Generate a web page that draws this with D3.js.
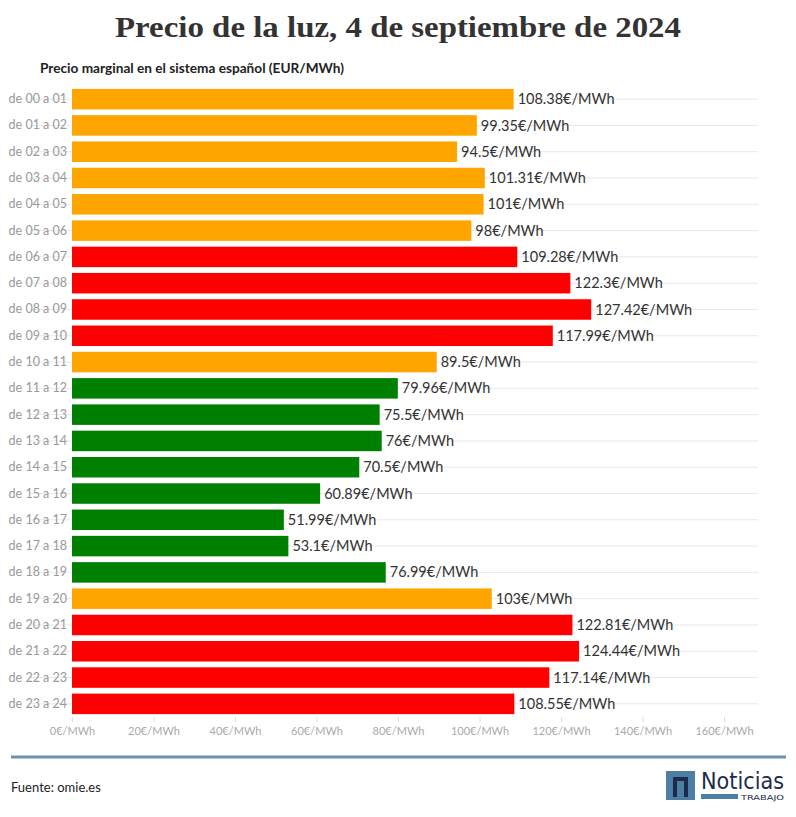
<!DOCTYPE html>
<html>
<head>
<meta charset="utf-8">
<script src="https://cdn.jsdelivr.net/npm/d3@7"></script>
<style>
  body { margin: 0; background: #fff; }
  svg { display: block; }
</style>
</head>
<body>
<svg id="chart" width="796" height="817"></svg>
<script>
const categories = ["de 00 a 01","de 01 a 02","de 02 a 03","de 03 a 04","de 04 a 05","de 05 a 06",
  "de 06 a 07","de 07 a 08","de 08 a 09","de 09 a 10","de 10 a 11","de 11 a 12","de 12 a 13",
  "de 13 a 14","de 14 a 15","de 15 a 16","de 16 a 17","de 17 a 18","de 18 a 19","de 19 a 20",
  "de 20 a 21","de 21 a 22","de 22 a 23","de 23 a 24"];
const prices = [108.38, 99.35, 94.5, 101.31, 101, 98, 109.28, 122.3, 127.42, 117.99, 89.5,
  79.96, 75.5, 76, 70.5, 60.89, 51.99, 53.1, 76.99, 103, 122.81, 124.44, 117.14, 108.55];
const levels = ["medio","medio","medio","medio","medio","medio","alto","alto","alto","alto","medio",
  "bajo","bajo","bajo","bajo","bajo","bajo","bajo","bajo","medio","alto","alto","alto","alto"];
const levelColors = {bajo: "#008000", medio: "#FFA500", alto: "#FF0000"};
const xTicks = [0, 20, 40, 60, 80, 100, 120, 140, 160];
const unit = "€/MWh";

(function () {
const svg = d3.select("#chart");
const mLeft = 72, mTop = 86, mBottom = 717;
const x = d3.scaleLinear().domain([0, 160]).range([mLeft, 724]);
const gridRight = 758;
const y = d3.scaleBand().domain(categories).range([mTop, mBottom]).paddingInner(0.22).paddingOuter(0.11);

// Title
svg.append("text")
  .attr("x", 398).attr("y", 37)
  .attr("text-anchor", "middle")
  .attr("font-family", "'Liberation Serif', serif")
  .attr("font-weight", "bold")
  .attr("font-size", 29)
  .attr("fill", "#333")
  .attr("textLength", 566).attr("lengthAdjust", "spacingAndGlyphs")
  .text("Precio de la luz, 4 de septiembre de 2024");

svg.append("text")
  .attr("x", 40).attr("y", 73)
  .attr("font-family", "Lato, sans-serif")
  .attr("font-weight", "bold")
  .attr("font-size", 13)
  .attr("fill", "#222")
  .attr("textLength", 304).attr("lengthAdjust", "spacingAndGlyphs")
  .text("Precio marginal en el sistema español (EUR/MWh)");

// Gridlines
svg.append("g").selectAll("line").data(categories).join("line")
  .attr("x1", 30).attr("x2", gridRight)
  .attr("y1", d => y(d) + y.bandwidth() / 2)
  .attr("y2", d => y(d) + y.bandwidth() / 2)
  .attr("stroke", "#e8e8e8").attr("stroke-width", 1);

// Y axis
const yAxis = svg.append("g").attr("transform", `translate(${mLeft},0)`)
  .call(d3.axisLeft(y).tickSize(0).tickPadding(5));
yAxis.select(".domain").remove();
yAxis.selectAll(".tick line").remove();
yAxis.selectAll(".tick text")
  .attr("font-family", "Lato, sans-serif").attr("font-size", 12.5).attr("fill", "#999");

// X axis
const xAxis = svg.append("g").attr("transform", `translate(0,${mBottom})`)
  .call(d3.axisBottom(x).tickValues(xTicks).tickSize(5).tickPadding(5).tickFormat(d => d + unit));
xAxis.select(".domain").remove();
xAxis.selectAll(".tick line").attr("stroke", "#ddd");
xAxis.selectAll(".tick text")
  .attr("font-family", "Lato, sans-serif").attr("font-size", 11).attr("fill", "#aaa");

// Bars
svg.append("g").selectAll("rect").data(categories).join("rect")
  .attr("x", x(0))
  .attr("y", d => y(d))
  .attr("width", (d, i) => x(prices[i]) - x(0))
  .attr("height", y.bandwidth())
  .attr("fill", (d, i) => levelColors[levels[i]]);

// Value labels
svg.append("g").selectAll("text").data(categories).join("text")
  .attr("x", (d, i) => x(prices[i]) + 4)
  .attr("y", d => y(d) + y.bandwidth() / 2)
  .attr("dy", "0.35em")
  .attr("font-family", "Lato, sans-serif").attr("font-size", 14.5).attr("fill", "#333")
  .text((d, i) => prices[i] + unit);

// Footer
svg.append("rect").attr("x", 11).attr("y", 755.5).attr("width", 775).attr("height", 3).attr("fill", "#6a93b0");
svg.append("text")
  .attr("x", 11).attr("y", 792)
  .attr("font-family", "Lato, sans-serif").attr("font-size", 13).attr("fill", "#222")
  .text("Fuente: omie.es");

// Logo
const logo = svg.append("g");
logo.append("rect").attr("x", 666).attr("y", 771).attr("width", 29).attr("height", 29).attr("fill", "#4d7fa6");
logo.append("path")
  .attr("d", "M673,797 L673,777 L688,777 L688,797 L684,797 L684,781 L677,781 L677,797 Z")
  .attr("fill", "#1d2b4a");
logo.append("text")
  .attr("x", 701).attr("y", 789)
  .attr("font-family", "'DejaVu Sans', sans-serif").attr("font-size", 23)
  .attr("fill", "#1d2b4a")
  .attr("textLength", 83).attr("lengthAdjust", "spacingAndGlyphs")
  .text("Noticias");
logo.append("rect").attr("x", 701).attr("y", 794).attr("width", 37).attr("height", 5).attr("fill", "#4d7fa6");
logo.append("text")
  .attr("x", 741).attr("y", 799.5)
  .attr("font-family", "'DejaVu Sans', sans-serif").attr("font-size", 7)
  .attr("fill", "#1d2b4a")
  .attr("textLength", 43).attr("lengthAdjust", "spacingAndGlyphs")
  .text("TRABAJO");
})();
</script>
</body>
</html>
